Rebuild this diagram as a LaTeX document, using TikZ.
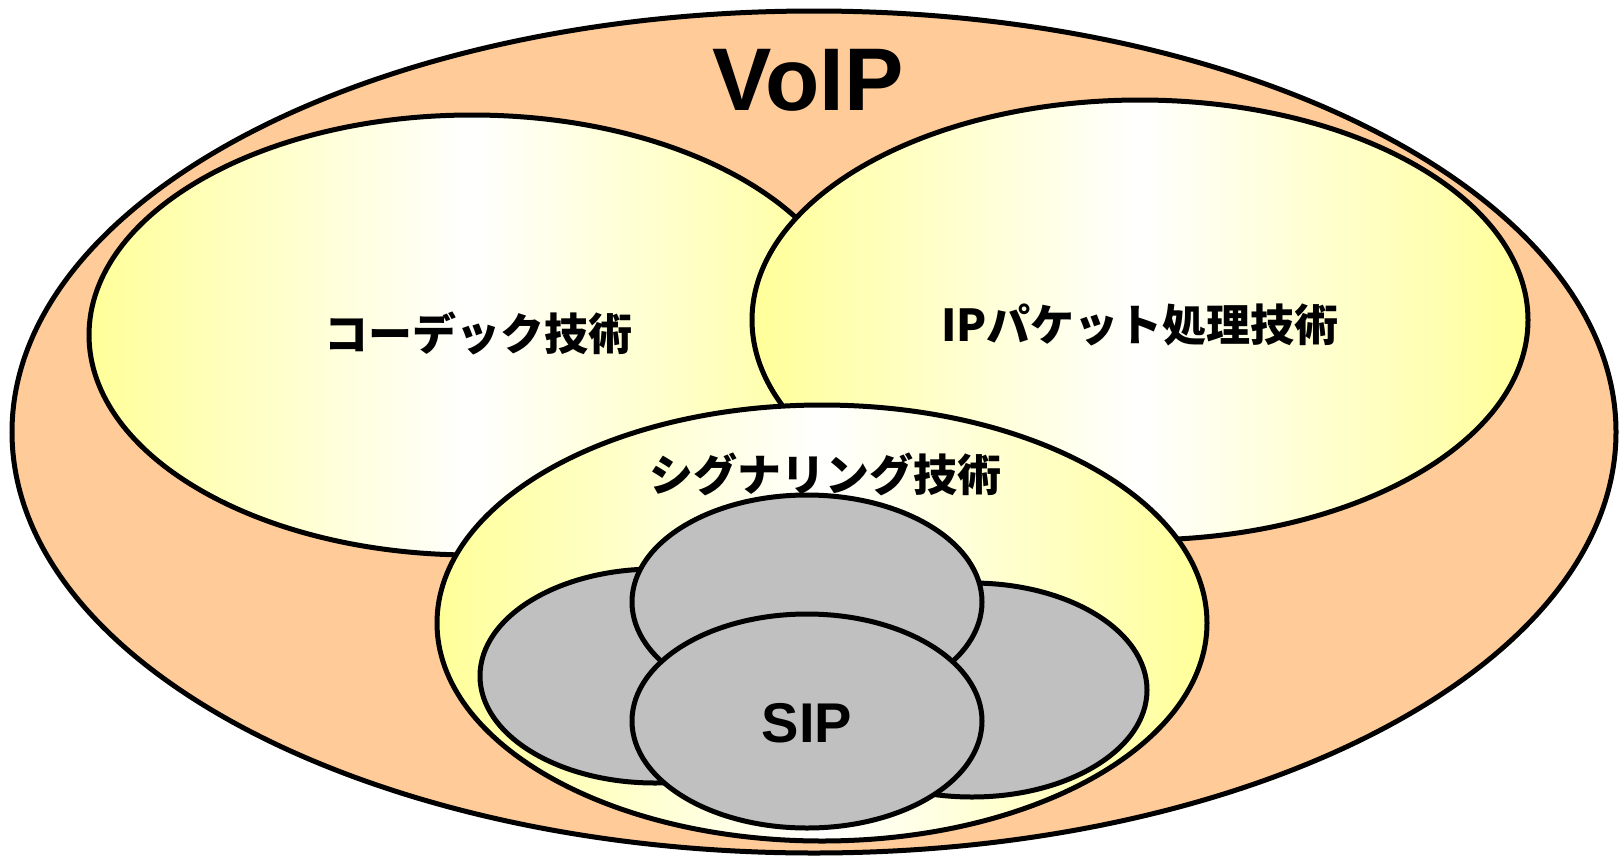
\documentclass[tikz,border=0pt]{standalone}
\usepackage{fontspec}
\setmainfont{Liberation Sans}
\newfontfamily\jpfont{Noto Sans CJK JP}
\usetikzlibrary{shapes.geometric}
\definecolor{voipfill}{HTML}{FFCC99}
\definecolor{pale}{HTML}{FFFF99}
\definecolor{sipgray}{HTML}{C0C0C0}

\begin{document}
\begin{tikzpicture}[x=1pt, y=-1pt, line width=5pt,
    bubble/.style={ellipse, draw, inner sep=0pt},
    tech/.style={bubble, left color=pale, right color=pale, middle color=white},
    proto/.style={bubble, fill=sipgray, minimum width=350, minimum height=214},
    jp/.style={font=\jpfont\bfseries\fontsize{44}{44}\selectfont}]
        \useasboundingbox (0, 0) rectangle (1622, 857);

        \node[bubble, fill=voipfill, minimum width=1604, minimum height=842] (V) at (814, 432) {};
        \node[tech, minimum width=766, minimum height=440] (C) at (472, 335) {};
        \node[tech, minimum width=776, minimum height=440] (P) at (1140, 320) {};
        \node[tech, minimum width=770, minimum height=436] (S) at (822, 623) {};

        \node[proto] (L) at (655, 676) {};
        \node[proto] (R) at (972, 690) {};
        \node[proto] (T) at (807, 602) {};
        \node[proto] (B) at (807, 721) {};

        \node[font=\bfseries\fontsize{89}{89}\selectfont] (Vt) at (808, 80) {VoIP};
        \node[jp] (Ct) at (478, 333) {コーデック技術};
        \node[jp] (Pt) at (1140, 325) {IPパケット処理技術};
        \node[jp] (St) at (825, 474) {シグナリング技術};
        \node[font=\bfseries\fontsize{56}{56}\selectfont] (Bt) at (807, 723) {SIP};
    \end{tikzpicture}
\end{document}
